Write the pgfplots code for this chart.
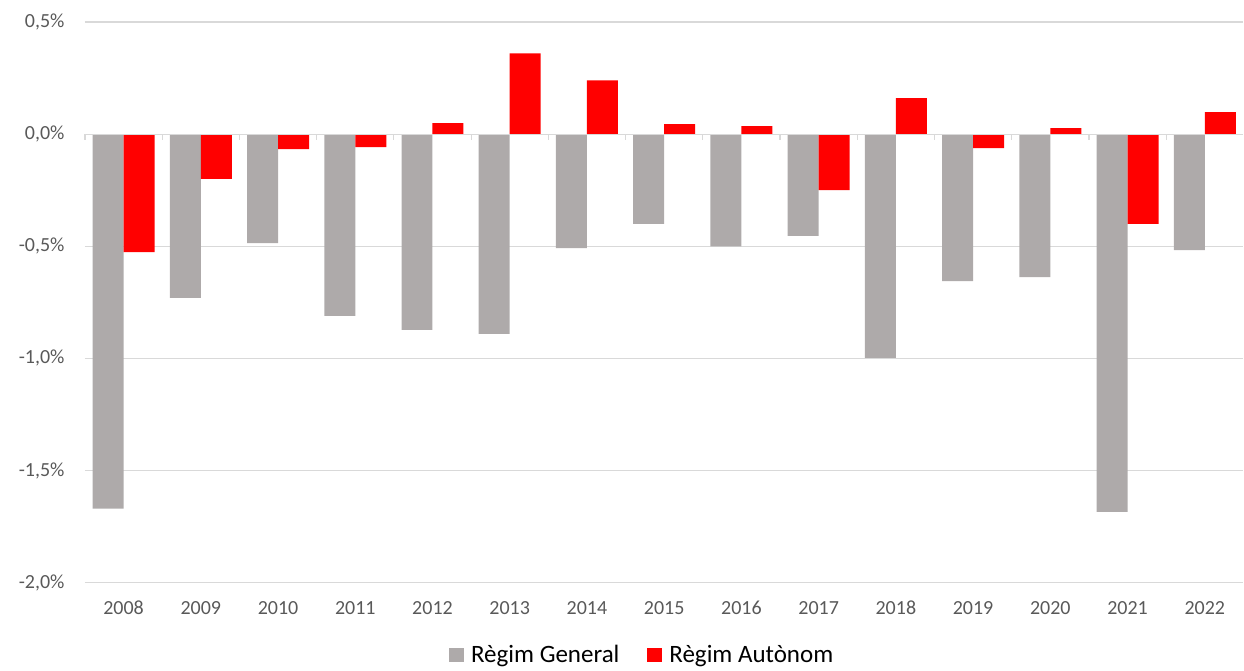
\documentclass[border=0pt]{standalone}
\usepackage{pgfplots}
\pgfplotsset{compat=1.18}
\usepackage{fontspec}
\setmainfont{Carlito}
\definecolor{bgray}{HTML}{AEAAAA}
\definecolor{bred}{HTML}{FF0000}
\definecolor{gridc}{HTML}{D9D9D9}
\definecolor{labc}{HTML}{595959}
\begin{document}
\begin{tikzpicture}
\begin{axis}[
  scale only axis,
  width=1159pt, height=561pt,
  ymin=-2, ymax=0.5,
  xmin=-0.5, xmax=14.5,
  ybar=0pt, bar width=31pt,
  axis line style={draw=none},
  ytick={-2,-1.5,-1,-0.5,0,0.5},
  yticklabels={{-2,0\%},{-1,5\%},{-1,0\%},{-0,5\%},{0,0\%},{0,5\%}},
  ymajorgrids, grid style={gridc, line width=1.2pt},
  major tick length=0pt,
  xtick={0,...,14},
  xticklabels={2008,2009,2010,2011,2012,2013,2014,2015,2016,2017,2018,2019,2020,2021,2022},
  tick label style={font=\fontsize{20}{24}\selectfont, text=labc},
  yticklabel style={xshift=-17pt},
  xticklabel style={yshift=-15pt, text height=13pt, text depth=0pt},
  legend style={draw=none, at={(0.481,-0.128)}, anchor=center, legend columns=2,
    font=\fontsize{25}{29}\selectfont, text=black,
    inner ysep=0pt,
    /tikz/every odd column/.append style={column sep=5pt},
    /tikz/every even column/.append style={column sep=26pt}},
  legend image code/.code={\fill[#1] (0pt,-8pt) rectangle (15pt,7pt);},
  clip=false,
]
\addplot[fill=bgray, draw=none] coordinates {
(0,-1.67) (1,-0.73) (2,-0.486) (3,-0.81) (4,-0.873) (5,-0.89) (6,-0.508)
(7,-0.40) (8,-0.50) (9,-0.454) (10,-0.998) (11,-0.655) (12,-0.637) (13,-1.684) (14,-0.517)};
\addlegendentry{Règim General}
\addplot[fill=bred, draw=none] coordinates {
(0,-0.526) (1,-0.20) (2,-0.067) (3,-0.058) (4,0.049) (5,0.36) (6,0.24)
(7,0.045) (8,0.036) (9,-0.25) (10,0.16) (11,-0.062) (12,0.027) (13,-0.40) (14,0.098)};
\addlegendentry{Règim Autònom}
\draw[gridc, line width=1.2pt] (axis cs:-0.5,0) -- (axis cs:14.5,0);
\pgfplotsinvokeforeach{-0.5,0.5,1.5,2.5,3.5,4.5,5.5,6.5,7.5,8.5,9.5,10.5,11.5,12.5,13.5}{
  \draw[gridc, line width=1.2pt] (axis cs:#1,0) -- ++(0pt,-6pt);
}
\end{axis}
\path (current axis.south west) ++(-85pt,-88pt) coordinate (bbl);
\path (current axis.north east) ++(0pt,22pt) coordinate (btr);
\useasboundingbox (bbl) rectangle (btr);
\end{tikzpicture}
\end{document}
